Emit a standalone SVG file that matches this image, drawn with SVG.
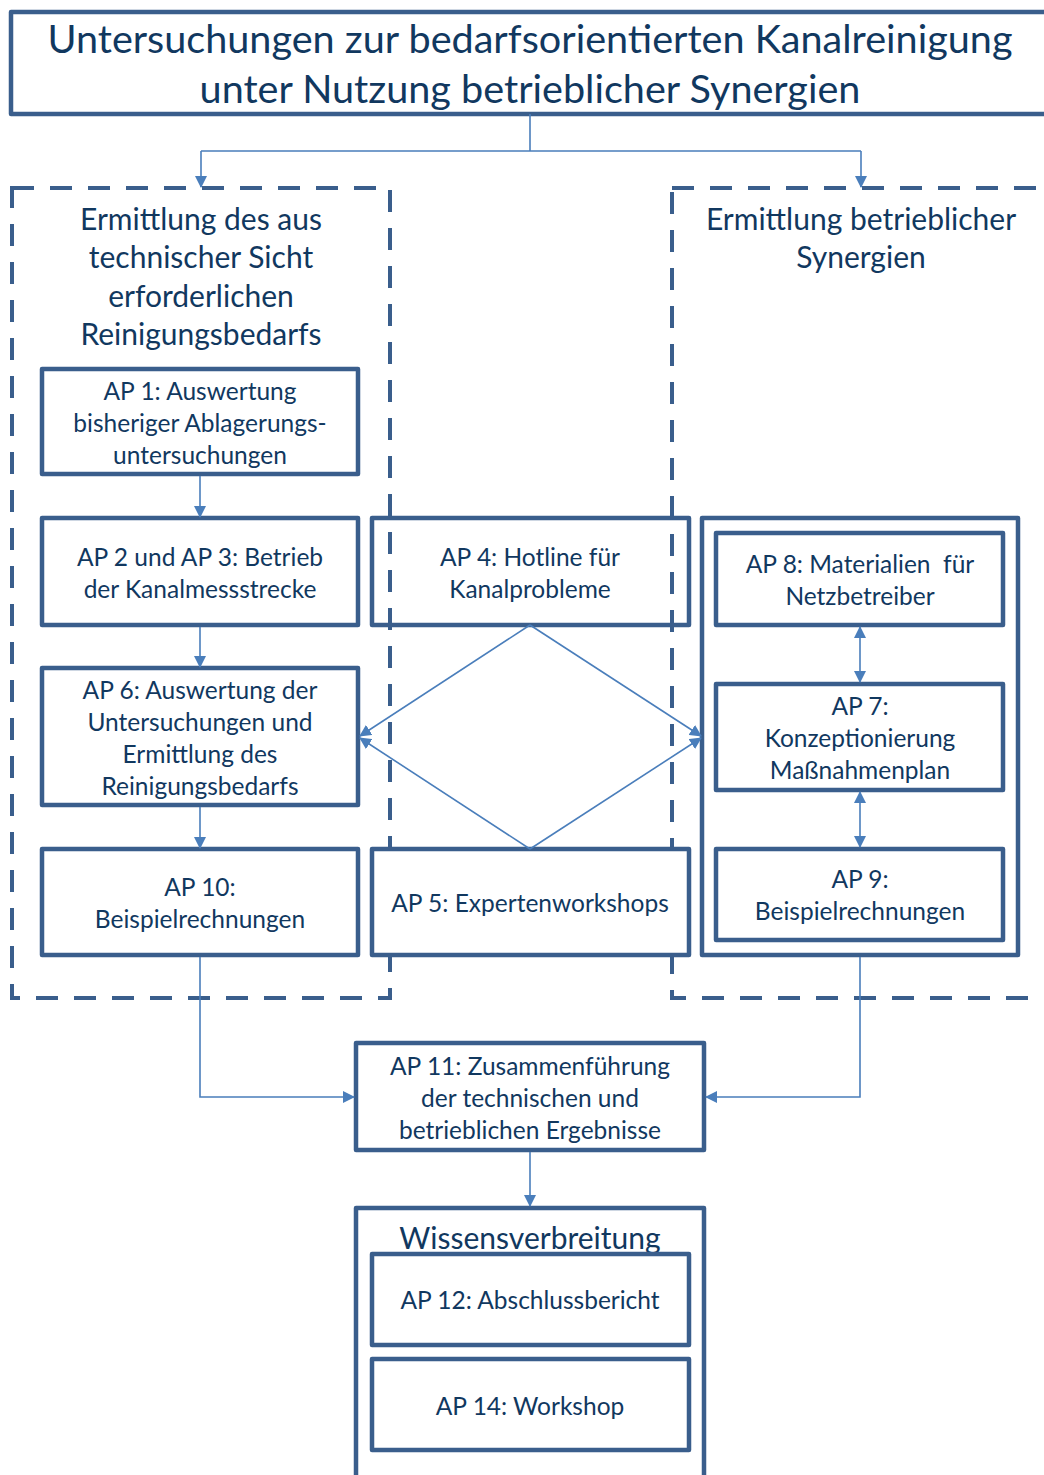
<svg xmlns="http://www.w3.org/2000/svg" width="1044" height="1475" viewBox="0 0 1044 1475">
<defs>
<marker id="ah" viewBox="0 0 12 12" refX="11" refY="6" markerWidth="12" markerHeight="12" markerUnits="userSpaceOnUse" orient="auto-start-reverse">
<path d="M0,0 L12,6 L0,12 Z" fill="#4A7EBB"/>
</marker>
<style>
.box{fill:#fff;stroke:#3A5E8C;stroke-width:4.5;stroke-linejoin:round}
.nofill{fill:none;stroke:#3A5E8C;stroke-width:4.5;stroke-linejoin:round}
.dash{fill:none;stroke:#3A5E8C;stroke-width:4;stroke-dasharray:22 16}
.con{fill:none;stroke:#4A7EBB;stroke-width:1.6}
text{font-family:Lato,"Open Sans","Liberation Sans",sans-serif;fill:#11385F;text-anchor:middle}
.t{font-size:24.5px}
.h{font-size:30px}
.title{font-size:39.6px}
.pre{white-space:pre}
</style>
</defs>
<rect width="1044" height="1475" fill="#fff"/>

<g id="title">
<rect class="box" x="11" y="12" width="1050" height="102"/>
<text class="title" x="530" y="53">Untersuchungen zur bedarfsorientierten Kanalreinigung</text>
<text class="title" x="530" y="103">unter Nutzung betrieblicher Synergien</text>
</g>

<g id="ap4">
<rect class="nofill" x="372" y="518" width="317" height="107"/>
<text class="t" x="530" y="566">AP 4: Hotline für</text>
<text class="t" x="530" y="598">Kanalprobleme</text>
</g>

<g id="group-left">
<rect class="dash" x="12" y="188" width="378" height="810"/>
<text class="h" x="201" y="230">Ermittlung des aus</text>
<text class="h" x="201" y="268">technischer Sicht</text>
<text class="h" x="201" y="307">erforderlichen</text>
<text class="h" x="201" y="345">Reinigungsbedarfs</text>
</g>

<g id="group-right">
<rect class="dash" x="672" y="188" width="400" height="810"/>
<text class="h" x="861" y="230">Ermittlung betrieblicher</text>
<text class="h" x="861" y="268">Synergien</text>
</g>

<g id="ap1">
<rect class="box" x="42" y="369" width="316" height="105"/>
<text class="t" x="200" y="400">AP 1: Auswertung</text>
<text class="t" x="200" y="432">bisheriger Ablagerungs-</text>
<text class="t" x="200" y="464">untersuchungen</text>
</g>

<g id="ap2-3">
<rect class="box" x="42" y="518" width="316" height="107"/>
<text class="t" x="200" y="566">AP 2 und AP 3: Betrieb</text>
<text class="t" x="200" y="598">der Kanalmessstrecke</text>
</g>

<g id="ap6">
<rect class="box" x="42" y="668" width="316" height="137"/>
<text class="t" x="200" y="699">AP 6: Auswertung der</text>
<text class="t" x="200" y="731">Untersuchungen und</text>
<text class="t" x="200" y="763">Ermittlung des</text>
<text class="t" x="200" y="795">Reinigungsbedarfs</text>
</g>

<g id="ap10">
<rect class="box" x="42" y="849" width="316" height="106"/>
<text class="t" x="200" y="896">AP 10:</text>
<text class="t" x="200" y="928">Beispielrechnungen</text>
</g>

<g id="ap5">
<rect class="box" x="372" y="849" width="317" height="106"/>
<text class="t" x="530" y="912">AP 5: Expertenworkshops</text>
</g>

<g id="container-right">
<rect class="box" x="702" y="518" width="316" height="437"/>
</g>

<g id="ap8">
<rect class="box" x="716" y="533" width="287" height="92"/>
<text class="t pre" x="860" y="573">AP 8: Materialien  für</text>
<text class="t" x="860" y="605">Netzbetreiber</text>
</g>

<g id="ap7">
<rect class="box" x="716" y="684" width="287" height="106"/>
<text class="t" x="860" y="715">AP 7:</text>
<text class="t" x="860" y="747">Konzeptionierung</text>
<text class="t" x="860" y="779">Maßnahmenplan</text>
</g>

<g id="ap9">
<rect class="box" x="716" y="849" width="287" height="91"/>
<text class="t" x="860" y="888">AP 9:</text>
<text class="t" x="860" y="920">Beispielrechnungen</text>
</g>

<g id="ap11">
<rect class="box" x="356" y="1043" width="348" height="107"/>
<text class="t" x="530" y="1075">AP 11: Zusammenführung</text>
<text class="t" x="530" y="1107">der technischen und</text>
<text class="t" x="530" y="1139">betrieblichen Ergebnisse</text>
</g>

<g id="wissensverbreitung">
<rect class="box" x="356" y="1208" width="348" height="300"/>
<text class="h" x="530" y="1249">Wissensverbreitung</text>
</g>

<g id="ap12">
<rect class="box" x="372" y="1254" width="317" height="91"/>
<text class="t" x="530" y="1309">AP 12: Abschlussbericht</text>
</g>

<g id="ap14">
<rect class="box" x="372" y="1359" width="317" height="91"/>
<text class="t" x="530" y="1415">AP 14: Workshop</text>
</g>

<g id="connectors">
<path class="con" d="M530,114 V151 M201,151 H861"/>
<path class="con" d="M201,151 V187" marker-end="url(#ah)"/>
<path class="con" d="M861,151 V187" marker-end="url(#ah)"/>
<path class="con" d="M200,476 V517" marker-end="url(#ah)"/>
<path class="con" d="M200,627 V667" marker-end="url(#ah)"/>
<path class="con" d="M200,807 V848" marker-end="url(#ah)"/>
<path class="con" d="M530,625 L360,736" marker-end="url(#ah)"/>
<path class="con" d="M530,849 L360,738" marker-end="url(#ah)"/>
<path class="con" d="M530,625 L701,736" marker-end="url(#ah)"/>
<path class="con" d="M530,849 L701,738" marker-end="url(#ah)"/>
<path class="con" d="M860,627 V682" marker-start="url(#ah)" marker-end="url(#ah)"/>
<path class="con" d="M860,792 V847" marker-start="url(#ah)" marker-end="url(#ah)"/>
<path class="con" d="M200,957 V1097 H354" marker-end="url(#ah)"/>
<path class="con" d="M860,957 V1097 H706" marker-end="url(#ah)"/>
<path class="con" d="M530,1152 V1206" marker-end="url(#ah)"/>
</g>
</svg>
